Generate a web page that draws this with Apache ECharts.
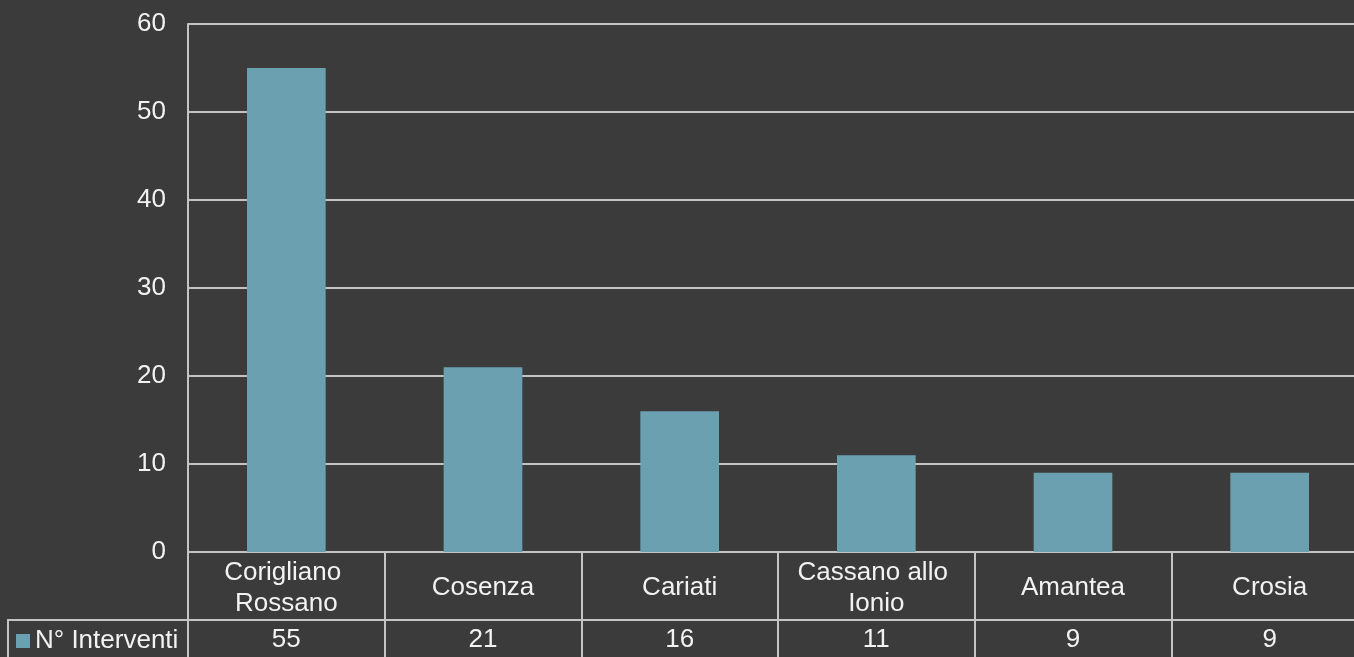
<!DOCTYPE html>
<html><head><meta charset="utf-8">
<script src="https://cdn.jsdelivr.net/npm/echarts@6/dist/echarts.min.js"></script>
<style>html,body{margin:0;padding:0;background:#3b3b3b;}#c{width:1354px;height:657px;}</style>
</head><body><div id="c"></div>
<script>
const categories = ['Corigliano Rossano', 'Cosenza', 'Cariati', 'Cassano allo Ionio', 'Amantea', 'Crosia'];
const values = [55, 21, 16, 11, 9, 9];
const seriesName = 'N° Interventi';
const yTicks = [0, 10, 20, 30, 40, 50, 60];

const gridColor = '#c4c4c4';
const textColor = '#f2f2f2';
const font = 'Liberation Sans, Arial, sans-serif';
const fs = 26;
const chart = echarts.init(document.getElementById('c'), null, {renderer: 'canvas'});
chart.setOption({
  backgroundColor: '#3b3b3b',
  animation: false,
  textStyle: {fontFamily: font},
  legend: {
    show: true, left: 11, top: 623, padding: 5, icon: 'rect', itemWidth: 14, itemHeight: 14, itemGap: 4,
    textStyle: {color: textColor, fontSize: fs, fontFamily: font, padding: [0, 0, 0, 0]},
    data: [seriesName]
  },
  grid: {left: 188, top: 24, width: 1180, height: 528, outerBoundsMode: 'none', containLabel: false},
  xAxis: [{
    type: 'category', data: categories, position: 'bottom',
    axisLine: {show: true, lineStyle: {color: gridColor, width: 2}},
    axisTick: {show: true, length: 106, interval: 0, lineStyle: {color: gridColor, width: 2}},
    axisLabel: {color: textColor, fontSize: fs, fontFamily: font, margin: 36, verticalAlign: 'middle', lineHeight: 31, interval: 0,
      width: 175, overflow: 'break'}
  }, {
    type: 'category', data: values.map(String), position: 'bottom', offset: 68,
    axisLine: {show: true, lineStyle: {color: gridColor, width: 2}},
    axisTick: {show: false},
    axisLabel: {color: textColor, fontSize: fs, fontFamily: font, margin: 20, verticalAlign: 'middle', interval: 0}
  }],
  yAxis: {
    type: 'value', min: yTicks[0], max: yTicks[yTicks.length - 1], interval: 10,
    axisLine: {show: true, lineStyle: {color: gridColor, width: 2}},
    axisTick: {show: false},
    axisLabel: {color: textColor, fontSize: fs, fontFamily: font, margin: 22},
    splitLine: {show: true, lineStyle: {color: gridColor, width: 2}}
  },
  series: [{
    name: seriesName, type: 'bar', data: values, barWidth: '40%',
    itemStyle: {color: '#6ba0b0'}, xAxisIndex: 0
  }],
  graphic: [{
    type: 'polyline', silent: true,
    shape: {points: [[188, 620], [8, 620], [8, 660]]},
    style: {stroke: gridColor, lineWidth: 2, fill: null}
  }]
});
</script></body></html>
